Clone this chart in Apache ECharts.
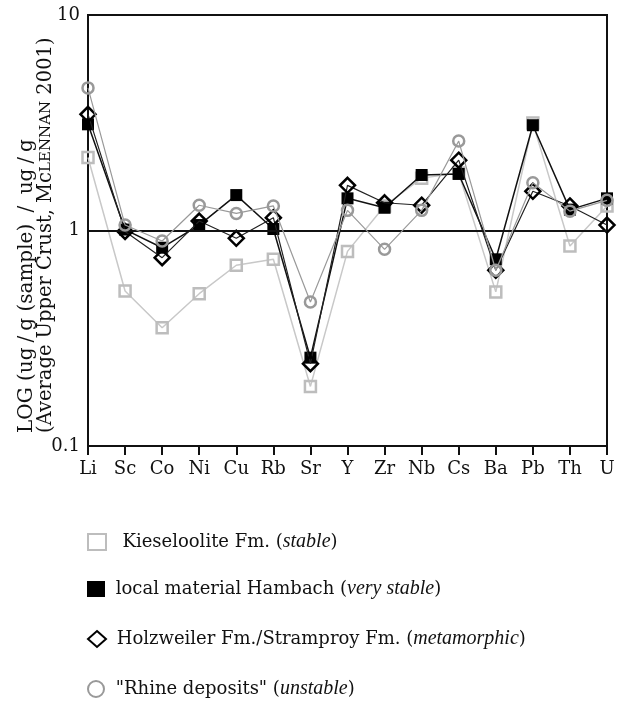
<!DOCTYPE html>
<html>
<head>
<meta charset="utf-8">
<script src="https://cdn.jsdelivr.net/npm/echarts@6/dist/echarts.min.js"></script>
<style>html,body{margin:0;padding:0;background:#fff;}#c{width:627px;height:702px;}</style>
</head>
<body>
<div id="c"></div>
<script>
const categories = ['Li','Sc','Co','Ni','Cu','Rb','Sr','Y','Zr','Nb','Cs','Ba','Pb','Th','U'];
const kieseloolite = [2.18, 0.524, 0.354, 0.509, 0.69, 0.735, 0.189, 0.80, 1.30, 1.75, 1.85, 0.519, 3.15, 0.847, 1.30];
const hambach = [3.11, 1.01, 0.832, 1.06, 1.46, 1.016, 0.257, 1.41, 1.275, 1.81, 1.83, 0.735, 3.08, 1.25, 1.41];
const holzweiler = [3.46, 0.99, 0.748, 1.106, 0.92, 1.147, 0.241, 1.62, 1.345, 1.31, 2.12, 0.654, 1.52, 1.30, 1.06];
const rhine = [4.59, 1.06, 0.894, 1.31, 1.20, 1.30, 0.466, 1.24, 0.818, 1.24, 2.60, 0.654, 1.666, 1.23, 1.38];
const yTickLabels = {0.1: '0.1', 1: '1', 10: '10'};
const seriesNames = ['Kieseloolite Fm.', 'local material Hambach', 'Holzweiler Fm./Stramproy Fm.', '"Rhine deposits"'];
const seriesQualifiers = ['stable', 'very stable', 'metamorphic', 'unstable'];
const legendIcons = ['rect', 'rect', 'diamond', 'circle'];

const FONT = 'DejaVu Serif';
const IFONT = 'Liberation Serif';
const FS = 18;
const chart = echarts.init(document.getElementById('c'), null, {renderer: 'canvas'});
const transparent = 'rgba(255,255,255,0)';
const legendCenters = [543, 590, 640, 690];

const legends = seriesNames.map((nm, i) => ({
  orient: 'vertical', left: 87, top: legendCenters[i] - 11, itemWidth: 18, itemHeight: 16,
  selectedMode: false, padding: 0,
  data: [{name: nm, icon: legendIcons[i]}],
  formatter: name => {
    const k = seriesNames.indexOf(name);
    const pre = k === 0 ? '  ' : ' ';
    return '{n|' + pre + name + ' (}{i|' + seriesQualifiers[k] + '}{n|)}';
  },
  textStyle: {
    rich: {
      n: {fontFamily: FONT, fontSize: FS, color: '#111', height: 22},
      i: {fontFamily: IFONT, fontSize: 20, fontStyle: 'italic', color: '#111', height: 22}
    }
  }
}));

chart.setOption({
  backgroundColor: '#fff',
  animation: false,
  grid: {left: 88, right: 20, top: 15, bottom: 256, show: true, borderColor: '#111', borderWidth: 2, backgroundColor: 'transparent'},
  xAxis: {
    type: 'category', data: categories, boundaryGap: false,
    axisLine: {lineStyle: {color: '#111', width: 2}},
    axisTick: {show: true, length: 9, lineStyle: {color: '#111', width: 2}},
    axisLabel: {color: '#111', fontFamily: FONT, fontSize: FS, margin: 14},
    splitLine: {show: false}
  },
  yAxis: {
    type: 'log', logBase: 10, min: 0.1, max: 10,
    axisLine: {show: true, lineStyle: {color: '#111', width: 2}},
    axisTick: {show: false},
    splitLine: {show: false},
    axisLabel: {color: '#111', fontFamily: FONT, fontSize: FS, margin: 8,
      formatter: v => yTickLabels[Math.round(v * 10) / 10] || ''}
  },
  legend: legends,
  graphic: [
    {type: 'text', x: 27, y: 433, rotation: Math.PI / 2,
     style: {text: '{a|LOG (ug}{s|/}{a|g (sample) }{s|/}{a| ug}{s|/}{a|g}', fill: '#111', align: 'left', verticalAlign: 'middle',
       rich: {a: {fontFamily: FONT, fontSize: 20, fill: '#111'}, s: {fontFamily: FONT, fontSize: 20, fill: '#111', padding: [0, 5, 0, 5]}}}},
    {type: 'text', x: 46, y: 433, rotation: Math.PI / 2,
     style: {text: '{a|(Average Upper Crust, Mc}{b|LENNAN}{a| 2001)}', fill: '#111', align: 'left', verticalAlign: 'middle',
       rich: {a: {fontFamily: FONT, fontSize: 19.5, fill: '#111'}, b: {fontFamily: FONT, fontSize: 15, fill: '#111'}}}}
  ],
  series: [
    {name: seriesNames[0], type: 'line', data: kieseloolite, symbol: 'rect', symbolSize: 11, z: 2,
     lineStyle: {color: '#c8c8c8', width: 1.5},
     itemStyle: {color: transparent, borderColor: '#bdbdbd', borderWidth: 2.5}},
    {name: seriesNames[1], type: 'line', data: hambach, symbol: 'rect', symbolSize: 12, z: 3,
     lineStyle: {color: '#111', width: 1.5},
     itemStyle: {color: '#000', borderColor: '#000', borderWidth: 0},
     markLine: {silent: true, symbol: 'none', label: {show: false}, lineStyle: {color: '#111', width: 2, type: 'solid'},
       data: [{yAxis: 1}]}},
    {name: seriesNames[2], type: 'line', data: holzweiler, symbol: 'diamond', symbolSize: 15, z: 4,
     lineStyle: {color: '#222', width: 1.2},
     itemStyle: {color: transparent, borderColor: '#000', borderWidth: 2.5}},
    {name: seriesNames[3], type: 'line', data: rhine, symbol: 'circle', symbolSize: 11, z: 5,
     lineStyle: {color: '#999', width: 1.2},
     itemStyle: {color: transparent, borderColor: '#999', borderWidth: 2.5}}
  ]
});
</script>
</body>
</html>
